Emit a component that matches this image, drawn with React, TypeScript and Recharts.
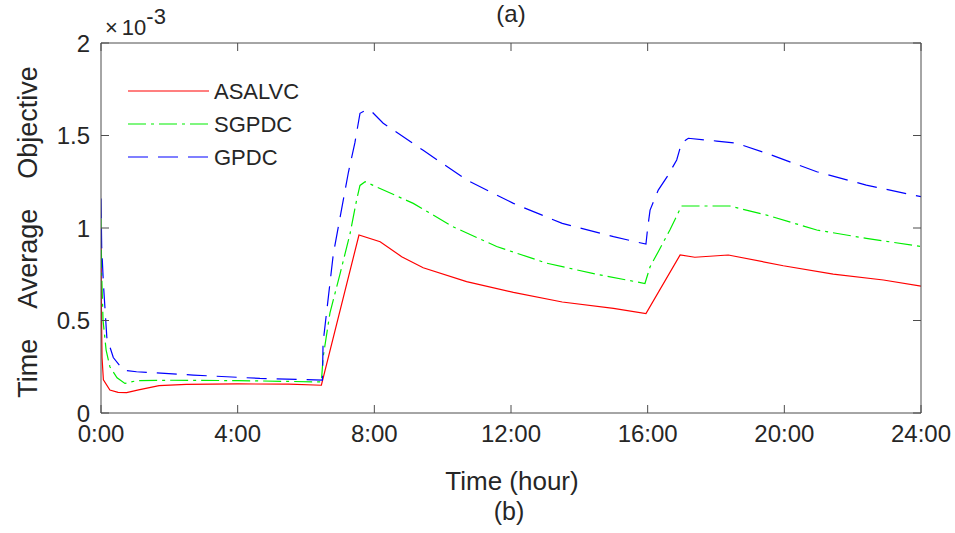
import React from 'react';
import { LineChart, Line, XAxis, YAxis } from 'recharts';

// x in hours, y in units of 1e-3
const hourTicks = [0, 4, 8, 12, 16, 20, 24];
const valueTicks = [0, 0.5, 1, 1.5, 2];

const asalvcHours = [0, 0.01, 0.03, 0.07, 0.26, 0.5, 0.75, 1.1, 1.7, 2.5, 4, 5.5, 6.45, 7.55, 8.17, 8.8, 9.43, 10.7, 12.07, 13.5, 15, 15.95, 16.95, 17.38, 18.36, 19.97, 21.43, 22.9, 24];
const asalvcValues = [1.0, 0.6, 0.3, 0.18, 0.124, 0.112, 0.11, 0.125, 0.148, 0.155, 0.157, 0.156, 0.15, 0.962, 0.926, 0.845, 0.785, 0.71, 0.652, 0.6, 0.566, 0.537, 0.854, 0.842, 0.854, 0.796, 0.751, 0.719, 0.686];

const sgpdcHours = [0, 0.02, 0.06, 0.15, 0.26, 0.47, 0.7, 1.05, 2, 4, 6.45, 6.5, 6.7, 7.0, 7.29, 7.48, 7.58, 7.73, 7.97, 9.14, 10.3, 11.58, 13.04, 14.5, 15.92, 16.07, 16.31, 16.65, 16.99, 18.4, 19.48, 20.95, 22.4, 24];
const sgpdcValues = [1.05, 0.75, 0.5, 0.34, 0.25, 0.19, 0.16, 0.175, 0.177, 0.175, 0.168, 0.3, 0.54, 0.755, 0.97, 1.15, 1.23, 1.25, 1.23, 1.133, 1.007, 0.9, 0.81, 0.75, 0.7, 0.79, 0.872, 0.989, 1.119, 1.119, 1.07, 0.989, 0.944, 0.9];

const gpdcHours = [0, 0.02, 0.07, 0.17, 0.36, 0.65, 1.04, 2.7, 4.65, 6.48, 6.5, 6.6, 6.8, 7.0, 7.24, 7.43, 7.58, 7.78, 7.92, 8.26, 9.43, 10.7, 12.07, 13.5, 15, 15.95, 16.0, 16.07, 16.31, 16.6, 16.85, 16.99, 17.19, 18.02, 18.6, 19.48, 20.95, 22.4, 24];
const gpdcValues = [1.16, 0.9, 0.7, 0.41, 0.3, 0.232, 0.223, 0.205, 0.187, 0.178, 0.38, 0.54, 0.86, 1.06, 1.3, 1.46, 1.62, 1.64, 1.63, 1.566, 1.42, 1.26, 1.133, 1.025, 0.953, 0.913, 1.0, 1.097, 1.205, 1.286, 1.368, 1.458, 1.485, 1.47, 1.458, 1.404, 1.304, 1.232, 1.169];

const toPoints = (hours: number[], values: number[]) =>
  hours.map((t, i) => ({ t, v: values[i] }));

const series = [
  { name: 'ASALVC', data: toPoints(asalvcHours, asalvcValues), color: '#ff0000', dash: undefined as string | undefined },
  { name: 'SGPDC', data: toPoints(sgpdcHours, sgpdcValues), color: '#00ee00', dash: '18 5 3 5' },
  { name: 'GPDC', data: toPoints(gpdcHours, gpdcValues), color: '#0000ff', dash: '20 10' },
];

const AXIS = '#4d4d4d';
const TEXT = '#262626';
const FONT = '"Liberation Sans", Arial, Helvetica, sans-serif';

const tickStyle = { fill: TEXT, fontSize: 24, fontFamily: FONT };

const App: React.FC = () => {
  return (
    <div style={{ position: 'absolute', left: 0, top: 0, width: 955, height: 533, background: '#fff' }}>
      <LineChart width={955} height={533} data={series[0].data} margin={{ top: 42, right: 33, bottom: 90, left: 41 }}>
        <XAxis
          xAxisId="bottom"
          dataKey="t"
          type="number"
          domain={[0, 24]}
          ticks={hourTicks}
          tickFormatter={(h: number) => `${h}:00`}
          tick={tickStyle}
          stroke={AXIS}
          tickSize={-8}
          tickMargin={20}
          height={30}
          allowDataOverflow
        />
        <XAxis
          xAxisId="top"
          orientation="top"
          dataKey="t"
          type="number"
          domain={[0, 24]}
          ticks={hourTicks}
          tickFormatter={() => ''}
          stroke={AXIS}
          tickSize={-8}
          height={1}
          allowDataOverflow
        />
        <YAxis
          yAxisId="left"
          type="number"
          domain={[0, 2]}
          ticks={valueTicks}
          tick={tickStyle}
          stroke={AXIS}
          tickSize={-8}
          tickMargin={19}
          width={60}
          allowDataOverflow
        />
        <YAxis
          yAxisId="right"
          orientation="right"
          type="number"
          domain={[0, 2]}
          ticks={valueTicks}
          tickFormatter={() => ''}
          stroke={AXIS}
          tickSize={-8}
          width={1}
          allowDataOverflow
        />
        {series.map((s) => (
          <Line
            key={s.name}
            xAxisId="bottom"
            yAxisId="left"
            data={s.data}
            dataKey="v"
            name={s.name}
            type="linear"
            stroke={s.color}
            strokeWidth={1.2}
            strokeDasharray={s.dash}
            dot={false}
            activeDot={false}
            isAnimationActive={false}
          />
        ))}
      </LineChart>
      <svg
        width={955}
        height={533}
        style={{ position: 'absolute', left: 0, top: 0, pointerEvents: 'none' }}
        fontFamily={FONT}
      >
        <text x={511} y={22} textAnchor="middle" fontSize={24} fill={TEXT}>(a)</text>
        <text x={105} y={35} fontSize={22} fill={TEXT}>
          ×
          <tspan dx={4}>10</tspan>
          <tspan dy={-11}>-3</tspan>
        </text>
        <text x={512} y={490} textAnchor="middle" fontSize={26} fill={TEXT}>Time (hour)</text>
        <text x={509} y={520} textAnchor="middle" fontSize={25} fill={TEXT}>(b)</text>
        <text
          x={37}
          y={232}
          textAnchor="middle"
          fontSize={27}
          fill={TEXT}
          transform="rotate(-90 37 232)"
        >
          {'Time\u00A0\u00A0\u00A0\u00A0Average\u00A0\u00A0\u00A0\u00A0Objective'}
        </text>
        {series.map((s, i) => {
          const y = 91 + i * 33;
          return (
            <g key={s.name}>
              <line x1={128} x2={209} y1={y} y2={y} stroke={s.color} strokeWidth={1.2} strokeDasharray={s.dash} />
              <text x={214} y={y + 8} fontSize={22} fill={TEXT}>{s.name}</text>
            </g>
          );
        })}
      </svg>
    </div>
  );
};

export default App;
